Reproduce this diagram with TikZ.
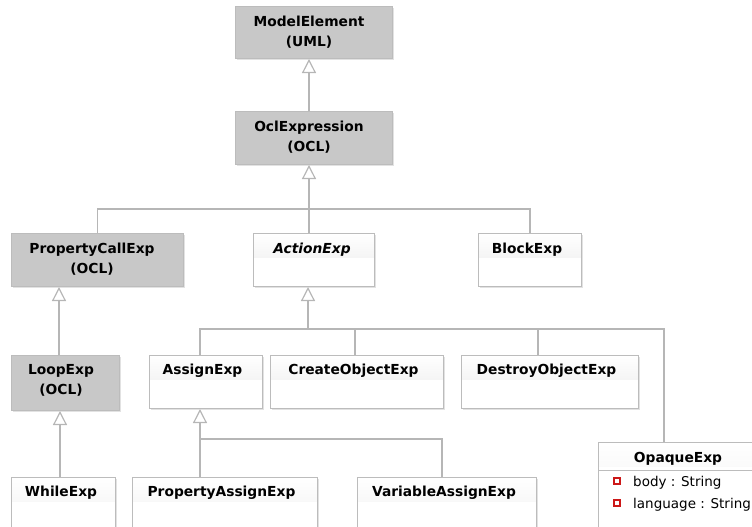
\documentclass[tikz,border=0pt]{standalone}
\usepackage{fontspec}
\setmainfont{DejaVu Sans}
\usetikzlibrary{arrows.meta,shadows}

\definecolor{clsgray}{RGB}{200,200,200}
\definecolor{clsline}{RGB}{188,188,188}
\definecolor{connline}{RGB}{182,182,182}
\definecolor{hdrshade}{RGB}{232,232,232}
\definecolor{attred}{RGB}{204,24,24}

\newcommand{\namefont}{\fontsize{13.8}{20}\selectfont\bfseries}
\newcommand{\attrfont}{\fontsize{13.5}{16}\selectfont}

\begin{document}
\begin{tikzpicture}[x=1pt, y=-1pt,
    cls/.style={draw=clsline, line width=1pt, anchor=north west, inner sep=0pt,
      drop shadow={shadow xshift=1.2pt, shadow yshift=-1.2pt, opacity=0.25, fill=black!45}},
    graycls/.style={cls, fill=clsgray},
    whitecls/.style={cls, fill=white,
      path picture={\shade[top color=white, bottom color=hdrshade]
        (path picture bounding box.north west) rectangle ([yshift=-24pt]path picture bounding box.north east);}},
    title/.style={anchor=north, inner sep=0pt, align=center, font=\namefont},
    conn/.style={draw=connline, line width=1.2pt},
    gen/.style={conn, -{Triangle[open, length=14pt, width=14pt]}},
    attrmark/.style={draw=attred, fill=white, line width=1.1pt, minimum size=6pt, inner sep=0pt},
    attr/.style={anchor=base west, inner sep=0pt, font=\attrfont}]

  \useasboundingbox (0,0) rectangle (752,527);
  \clip (0,0) rectangle (752,527);

  \node[graycls, minimum width=157, minimum height=52] (me) at (235,6) {};
  \node[title] (me-t) at (309,16) {ModelElement\\(UML)};

  \node[graycls, minimum width=157, minimum height=53] (ocl) at (235,111) {};
  \node[title] (ocl-t) at (309,121) {OclExpression\\(OCL)};

  \node[graycls, minimum width=172, minimum height=53] (pce) at (11,233) {};
  \node[title] (pce-t) at (92,243) {PropertyCallExp\\(OCL)};

  \node[whitecls, minimum width=121, minimum height=53] (act) at (253,233) {};
  \node[title, font=\fontsize{13.8}{20}\selectfont\bfseries\itshape] (act-t) at (312,243) {ActionExp};

  \node[whitecls, minimum width=103, minimum height=53] (blk) at (478,233) {};
  \node[title] (blk-t) at (527,243) {BlockExp};

  \node[graycls, minimum width=108, minimum height=55] (loop) at (11,355) {};
  \node[title] (loop-t) at (61,364) {LoopExp\\(OCL)};

  \node[whitecls, minimum width=113, minimum height=53] (asg) at (149,355) {};
  \node[title] (asg-t) at (202.5,364) {AssignExp};

  \node[whitecls, minimum width=173, minimum height=53] (coe) at (270,355) {};
  \node[title] (coe-t) at (353.5,364) {CreateObjectExp};

  \node[whitecls, minimum width=177, minimum height=53] (doe) at (461,355) {};
  \node[title] (doe-t) at (546.5,364) {DestroyObjectExp};

  \node[whitecls, minimum width=104, minimum height=80] (whl) at (11,477) {};
  \node[title] (whl-t) at (61,486) {WhileExp};

  \node[whitecls, minimum width=185, minimum height=80] (pas) at (132,477) {};
  \node[title] (pas-t) at (221.5,486) {PropertyAssignExp};

  \node[whitecls, minimum width=179, minimum height=80] (vas) at (357,477) {};
  \node[title] (vas-t) at (444,486) {VariableAssignExp};

  \node[whitecls, minimum width=170, minimum height=120] (opq) at (598,442) {};
  \node[title] (opq-t) at (678,452) {OpaqueExp};
  \coordinate (sep) at (598,470);
  \draw[draw=clsline, line width=1pt] (sep) -- (sep -| opq.east);
  \node[attrmark] (m1) at (617,481) {};
  \node[attr] (a1) at (633,486) {body : String};
  \node[attrmark] (m2) at (617,503) {};
  \node[attr] (a2) at (633,508) {language : String};

  \coordinate (j0) at (309,0);
  \draw[gen] (j0 |- ocl.north) -- (j0 |- me.south);

  \coordinate (j1) at (309,209);
  \draw[gen] (j1) -- (j1 |- ocl.south);
  \draw[conn] (pce.north) |- (j1) -| (blk.north);
  \draw[conn] (j1) -- (j1 |- act.north);

  \coordinate (x1) at (59,0);
  \draw[gen] (x1 |- loop.north) -- (x1 |- pce.south);
  \coordinate (x2) at (60,0);
  \draw[gen] (x2 |- whl.north) -- (x2 |- loop.south);

  \coordinate (j2) at (308,329);
  \coordinate (d1) at (200,329);
  \coordinate (d2) at (355,329);
  \coordinate (d3) at (538,329);
  \coordinate (d4) at (664,329);
  \draw[gen] (j2) -- (j2 |- act.south);
  \draw[conn] (d1 |- asg.north) -- (d1) -- (d4) -- (d4 |- opq.north);
  \draw[conn] (d2) -- (d2 |- coe.north);
  \draw[conn] (d3) -- (d3 |- doe.north);

  \coordinate (j3) at (200,439);
  \coordinate (d5) at (442,439);
  \draw[gen] (j3) -- (j3 |- asg.south);
  \draw[conn] (j3 |- pas.north) -- (j3) -- (d5) -- (d5 |- vas.north);

\end{tikzpicture}
\end{document}
